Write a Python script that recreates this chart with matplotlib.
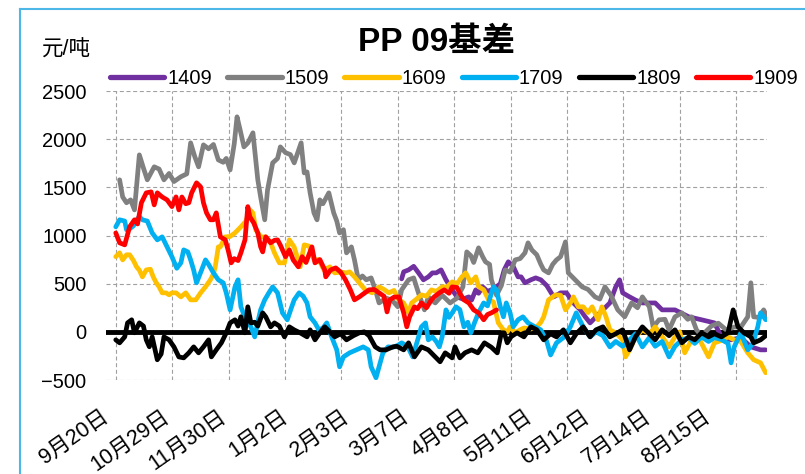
import matplotlib
matplotlib.use('Agg')
import matplotlib.pyplot as plt
from matplotlib.lines import Line2D

plt.rcParams['font.family'] = ['Liberation Sans', 'Noto Sans CJK SC']
plt.rcParams['axes.unicode_minus'] = True

# 数据: (交易日序号, 基差 元/吨)
s1409 = [(111.5, 550), (112.3, 623), (114.2, 643), (116.2, 680), (118.1, 612), (120, 540), (121.9, 571),
         (123.5, 612), (125, 612), (126.9, 643), (128.8, 540), (131.2, 436), (133.1, 363), (135.4, 340),
         (137.7, 363), (138.8, 330), (140.4, 436), (141.5, 400), (143.1, 467), (145, 420), (147.7, 450),
         (150, 500), (151.5, 643), (153.1, 727), (155, 680), (156.9, 571), (158.1, 571), (159.6, 509),
         (161.9, 540), (163.8, 560), (165.8, 540), (168.1, 480), (170.8, 363), (173.5, 405), (175.8, 405),
         (178.5, 300), (181.2, 228), (183.1, 156), (185, 93), (187.3, 156), (190, 228), (192.7, 300),
         (195, 467), (196.5, 540), (197.7, 405), (200.4, 363), (202.7, 330), (205.4, 300), (210.4, 300),
         (213.1, 228), (218.1, 228), (223.5, 156), (228.5, 125), (233.5, 93), (236.2, -52), (240, -83),
         (243.8, -60), (247.7, -156), (251.5, -187), (253.5, -187)]

s1509 = [(1.5, 1578), (2.7, 1400), (4.2, 1340), (5.8, 1370), (7.3, 1266), (9.2, 1837), (10.8, 1700),
         (12.3, 1578), (15, 1713), (16.9, 1690), (18.8, 1578), (20.8, 1644), (22.7, 1560), (25.4, 1610),
         (27.7, 1640), (29.2, 1962), (30.8, 1820), (32.3, 1713), (34.2, 1941), (36.2, 1900), (38.1, 1945),
         (40, 1785), (41.9, 1760), (43.1, 1800), (44.6, 1681), (46.2, 1950), (47.3, 2232), (48.5, 2097),
         (50, 1920), (51.5, 1960), (53.5, 2066), (55.4, 1578), (56.5, 1401), (58.1, 1163), (59.2, 1474),
         (61.2, 1754), (63.1, 1800), (64.2, 1920), (66.2, 1860), (68.1, 1840), (69.6, 1754), (72.3, 1962),
         (73.5, 1650), (74.6, 1660), (75.8, 1443), (77.3, 1235), (78.5, 1163), (79.6, 1370), (80.8, 1330),
         (83.1, 1443), (85, 1235), (86.2, 1150), (87.3, 1027), (88.8, 1060), (90, 820), (91.9, 882),
         (93.1, 747), (94.6, 540), (96.2, 580), (97.7, 540), (99.6, 560), (101.2, 440), (102.7, 300),
         (105.4, 350), (107.7, 330), (110, 260), (111.5, 436), (114.2, 540), (116.2, 560), (118.1, 400),
         (120.4, 228), (121.9, 363), (124.6, 300), (127.3, 380), (130.4, 300), (133.1, 350), (135.4, 467),
         (136.9, 830), (138.5, 790), (139.6, 720), (141.5, 872), (143.1, 780), (144.2, 727), (145.8, 700),
         (146.5, 540), (148.5, 380), (150.4, 480), (151.9, 643), (153.8, 620), (155.8, 747), (157.7, 760),
         (159.6, 820), (160.8, 924), (162.3, 850), (164.2, 800), (165.8, 700), (166.9, 643), (168.8, 612),
         (170.4, 700), (171.9, 747), (173.5, 780), (175.4, 934), (176.5, 612), (179.2, 540), (181.9, 467),
         (184.2, 440), (186.9, 363), (188.8, 340), (190.8, 467), (193.1, 380), (195.8, 228), (198.5, 156),
         (201.2, 300), (203.5, 250), (205.4, 363), (208.1, 260), (209.6, 50), (211.9, 125), (214.2, 130),
         (215.8, 20), (218.1, 156), (220.8, 197), (223.1, 130), (224.6, 156), (226.5, 20), (228.5, -40),
         (232.3, 60), (235, 90), (238.1, 20), (241.2, 50), (243.8, 50), (246.5, 156), (247.7, 509),
         (248.8, 156), (250.8, 150), (252.7, 228), (254, 156)]

s1609 = [(0, 780), (1.5, 820), (2.7, 747), (4.2, 800), (5.4, 800), (6.9, 740), (8.1, 675), (9.2, 640),
         (10.4, 571), (11.9, 643), (13.5, 650), (14.6, 571), (15.8, 509), (16.9, 467), (18.1, 405),
         (19.6, 405), (20.8, 384), (21.9, 405), (23.5, 405), (25.4, 363), (27.3, 405), (29.2, 332),
         (31.2, 332), (33.1, 405), (35, 467), (36.9, 540), (38.1, 600), (38.8, 675), (40, 882), (40.8, 882),
         (42.7, 986), (44.6, 990), (46.5, 1027), (48.8, 1090), (50.8, 1150), (52.3, 1266), (53.5, 1235),
         (54.6, 1059), (56.5, 986), (58.5, 986), (60.4, 924), (61.9, 820), (63.8, 716), (65.8, 716),
         (67.7, 955), (69.6, 880), (71.9, 675), (73.5, 903), (75.4, 890), (77.3, 747), (79.2, 750),
         (81.2, 643), (83.5, 675), (85.4, 612), (87.7, 620), (90, 612), (91.2, 623), (93.1, 571), (95, 509),
         (97.3, 436), (100, 405), (102.7, 467), (104.6, 440), (106.5, 405), (108.5, 430), (110.4, 332),
         (112.3, 300), (114.2, 197), (115.4, 300), (117.3, 340), (119.2, 384), (121.2, 370), (123.1, 436),
         (125, 420), (127.3, 467), (129.2, 467), (131.2, 519), (133.1, 500), (135, 571), (136.5, 612),
         (138.5, 509), (140.4, 571), (141.5, 470), (143.5, 436), (145.4, 332), (147.3, 310), (149.2, 93),
         (151.2, 20), (152.7, 0), (153.8, 52), (155.8, -10), (157.7, 21), (159.2, 40), (161.9, 30),
         (164.2, 52), (165.8, 100), (166.9, 156), (168.8, 332), (171.5, 384), (173.5, 380), (175.4, 228),
         (177.3, 300), (178.5, 363), (180.4, 260), (182.3, 260), (184.2, 200), (185.8, 260), (188.1, 125),
         (189.6, 260), (191.2, 156), (192.7, 21), (195, -10), (197.7, -83), (198.8, -260), (200.4, -187),
         (202.7, -52), (205.4, 20), (208.1, -20), (210.4, 52), (213.1, -50), (215.8, -155), (218.1, -52),
         (220, 0), (221.9, -218), (224.6, -83), (227.3, -60), (231.2, -260), (233.5, -114), (236.2, -90),
         (238.8, -52), (241.2, -83), (243.8, -100), (246.5, -218), (248.8, -290), (251.5, -322),
         (253.5, -425)]

s1709 = [(0, 1090), (1.5, 1163), (3.5, 1150), (4.2, 1059), (5.4, 1070), (6.9, 1100), (8.1, 1163),
         (9.2, 1194), (10.4, 1163), (12.3, 1150), (14.2, 1027), (16.2, 955), (18.1, 986), (20, 882),
         (21.9, 780), (23.8, 660), (25.4, 716), (26.5, 851), (28.1, 830), (29.2, 747), (30.4, 640),
         (31.5, 509), (33.5, 643), (35, 747), (36.2, 700), (38.1, 612), (40, 540), (41.9, 509), (43.1, 405),
         (44.6, 228), (46.5, 467), (47.7, 540), (48.8, 260), (50.8, 125), (52.7, 52), (54.2, -52),
         (55.4, 100), (56.5, 228), (58.1, 332), (59.6, 400), (61.2, 467), (63.1, 405), (65, 197),
         (66.9, 125), (68.5, 250), (69.6, 332), (71.5, 405), (73.1, 370), (74.6, 300), (75.8, 156),
         (77.7, 93), (79.2, 21), (80.8, 40), (82.3, 93), (84.2, -52), (86.2, -187), (87.3, -363),
         (88.8, -260), (91.2, -218), (93.8, -187), (96.5, -156), (98.5, -187), (99.6, -363), (101.5, -477),
         (102.7, -363), (104.2, -218), (106.2, -156), (108.1, -160), (110, -140), (111.5, -114),
         (113.8, -150), (115.8, -260), (118.1, -52), (119.2, 52), (120.8, 93), (121.9, -83), (123.5, -52),
         (125, -100), (126.2, -156), (127.3, -52), (128.8, 228), (130, 150), (131.2, 197), (132.7, 260),
         (134.2, 230), (135.8, 52), (137.3, 100), (138.5, -10), (140, 100), (141.5, 200), (143.5, 300),
         (145, 270), (147.3, 467), (148.5, 436), (150, 260), (151.2, 156), (152.3, 300), (153.8, 197),
         (155, 52), (156.9, 125), (158.8, 156), (160.8, 93), (163.5, 52), (165.8, 20), (168.1, -100),
         (169.6, -240), (171.9, -114), (174.6, -60), (177.3, 52), (179.6, 197), (182.3, 52), (185, -52),
         (187.3, 0), (190, -40), (192.7, -156), (195, -100), (197.7, -150), (200.4, -83), (202.7, -20),
         (205.4, -156), (208.1, -60), (210.4, -150), (213.1, -100), (215.8, -260), (218.1, -150),
         (220.8, -83), (223.5, -60), (225.8, -120), (228.5, -52), (231.2, -100), (233.5, -60), (236.2, -80),
         (238.8, -120), (240, -322), (241.2, -156), (243.8, -10), (246.5, -187), (248.5, -120), (250.4, 52),
         (251.5, 197), (252.7, 156), (253.5, 125)]

s1809 = [(0, -83), (1.5, -114), (3.5, -52), (4.6, 93), (6.2, 125), (7.3, -10), (9.2, 93), (10.8, 60),
         (11.9, -83), (13.1, -155), (14.2, -52), (16.2, -290), (17.7, -230), (18.8, -52), (20.8, -83),
         (22.7, -156), (24.6, -260), (26.5, -270), (28.5, -218), (30.4, -156), (32.3, -218), (34.2, -156),
         (36.2, -83), (37.3, -260), (39.2, -187), (41.2, -114), (43.1, -10), (44.6, 93), (46.5, 125),
         (47.7, 60), (48.8, 156), (50.4, -10), (51.5, 260), (52.7, 93), (54.2, 100), (55.4, 60), (57.3, 197),
         (58.5, 156), (60.4, 52), (61.9, 93), (63.8, 60), (65.8, -52), (67.7, 52), (69.6, 20), (71.9, -10),
         (74.6, -52), (75.8, 21), (77.7, -83), (79.6, -10), (81.5, 52), (83.5, 0), (85.4, -52), (87.7, -20),
         (90, -83), (92.7, -40), (95, -10), (96.9, 0), (98.8, -40), (101.2, -156), (103.1, -187),
         (105.4, -187), (108.1, -156), (109.6, -150), (112.3, -187), (114.2, -114), (116.5, -260),
         (119.2, -156), (121.9, -187), (124.6, -260), (126.5, -311), (128.5, -218), (131.2, -270),
         (132.3, -156), (134.2, -270), (136.2, -218), (138.8, -187), (141.2, -218), (143.8, -114),
         (146.5, -160), (148.8, -218), (150.4, -10), (151.5, -10), (152.7, -114), (154.2, -50), (156.5, -10),
         (159.2, -52), (161.9, 52), (164.2, 21), (166.9, -83), (169.6, -20), (171.9, -52), (174.6, 21),
         (177.3, -114), (179.6, -20), (182.3, 52), (185, -52), (187.3, 21), (190, 52), (192.7, -52),
         (195, -20), (197.7, 21), (200.4, -187), (202.7, -52), (205.4, 52), (208.1, -20), (210.4, -83),
         (213.1, 21), (215.8, -40), (218.1, 21), (220.8, -114), (223.5, -52), (225.8, -83), (228.5, -10),
         (231.2, -52), (233.5, -20), (236.2, -52), (238.8, -10), (240.8, 228), (242.7, 52), (245, -10),
         (247.7, -52), (248.8, -114), (251.5, -83), (253.5, -40)]

s1909 = [(0, 1027), (1.5, 924), (3.5, 903), (5.4, 1090), (7.3, 1163), (8.5, 1120), (10, 1340), (11.9, 1443),
         (13.8, 1453), (15, 1318), (16.2, 1443), (18.1, 1400), (20, 1370), (21.9, 1300), (23.5, 1401),
         (24.6, 1266), (25.8, 1400), (27.3, 1330), (28.5, 1340), (29.6, 1443), (31.5, 1547), (33.1, 1505),
         (34.2, 1340), (35.4, 1235), (36.9, 1163), (38.1, 1163), (39.2, 1235), (40.8, 986), (42.7, 955),
         (43.8, 851), (45, 716), (46.2, 760), (47.7, 740), (48.8, 820), (50.4, 955), (51.5, 1300),
         (52.3, 1194), (53.8, 1131), (55.4, 1027), (56.5, 882), (57.3, 830), (58.5, 986), (60.4, 924),
         (61.9, 950), (63.1, 955), (64.2, 900), (66.2, 780), (67.7, 850), (69.2, 747), (71.2, 675),
         (72.7, 780), (74.2, 720), (76.5, 882), (77.7, 716), (79.6, 750), (81.5, 643), (81.9, 571),
         (83.8, 643), (85.8, 664), (87.7, 620), (89.6, 540), (91.5, 436), (93.1, 332), (95, 363), (96.9, 400),
         (98.8, 436), (100.8, 440), (102.7, 405), (104.6, 370), (105.8, 207), (106.9, 332), (108.5, 360),
         (110.4, 363), (112.3, 197), (113.5, 52), (114.6, 156), (116.5, 260), (117.7, 240), (119.2, 300),
         (121.2, 250), (123.1, 332), (124.2, 363), (126.2, 405), (128.1, 436), (130, 400), (131.2, 467),
         (133.1, 460), (134.2, 400), (135.8, 332), (137.7, 300), (139.6, 228), (141.5, 197), (143.5, 125),
         (145, 180), (146.5, 197), (148.5, 228)]

series_names = ['1409', '1509', '1609', '1709', '1809', '1909']
series_data = [s1409, s1509, s1609, s1709, s1809, s1909]
colors = ['#7030A0', '#808080', '#FFC000', '#00B0F0', '#000000', '#FF0000']

date_labels = ['9月20日', '10月29日', '11月30日', '1月2日', '2月3日', '3月7日',
               '4月8日', '5月11日', '6月12日', '7月14日', '8月15日']
label_pos = [-3.8, 20.2, 42.4, 66.3, 90.2, 113.4, 137.4, 161.4, 184.4, 207.9, 230.9]
grid_pos = list(range(0, 243, 22))

fig = plt.figure(figsize=(8.05, 4.74), dpi=100)
ax = fig.add_axes([0.1317, 0.1983, 0.8211, 0.6097])

for name, data, c in zip(series_names, series_data, colors):
    xs = [p[0] for p in data]
    ys = [p[1] for p in data]
    ax.plot(xs, ys, color=c, lw=3.4, solid_joinstyle='round', solid_capstyle='round',
            label=name, zorder=3)

ax.axhline(0, color='black', lw=3.5, zorder=2)

ax.set_xlim(0, 254)
ax.set_ylim(-500, 2500)
ax.set_yticks(range(-500, 2501, 500))
ax.tick_params(axis='y', length=0, pad=14, labelsize=14.5)

ax.set_xticks(grid_pos)
ax.set_xticklabels([])
ax.set_xticks(label_pos, minor=True)
ax.set_xticklabels(date_labels, minor=True, rotation=35, ha='right', va='center',
                   rotation_mode='anchor', fontsize=15.5)
ax.tick_params(axis='x', which='both', length=0)
ax.tick_params(axis='x', which='minor', pad=25)

for sp in ax.spines.values():
    sp.set_visible(False)

ax.grid(True, which='major', color='#A0A0A0', lw=0.8, dashes=(3.6, 2.4), zorder=1)

handles = [Line2D([0], [0], color=c, lw=3.8, solid_capstyle='round') for c in colors]
fig.legend(handles, series_names, loc='center', bbox_to_anchor=(0.564, 0.835), ncol=6,
           frameon=False, fontsize=14.5, handlelength=2.7, handletextpad=0.15,
           columnspacing=0.75, borderpad=0)

fig.text(0.542, 0.911, 'PP 09基差', ha='center', va='center', fontsize=24, fontweight='bold')
fig.text(0.052, 0.894, '元/吨', ha='left', va='center', fontsize=15.5)

# 外框（浅蓝）
fig.add_artist(Line2D([0.025, 1.0], [0.982, 0.982], color='#4DB8E8', lw=1.5, transform=fig.transFigure))
fig.add_artist(Line2D([0.025, 0.025], [0.0, 0.982], color='#4DB8E8', lw=1.5, transform=fig.transFigure))

fig.savefig('out.png', dpi=100)
